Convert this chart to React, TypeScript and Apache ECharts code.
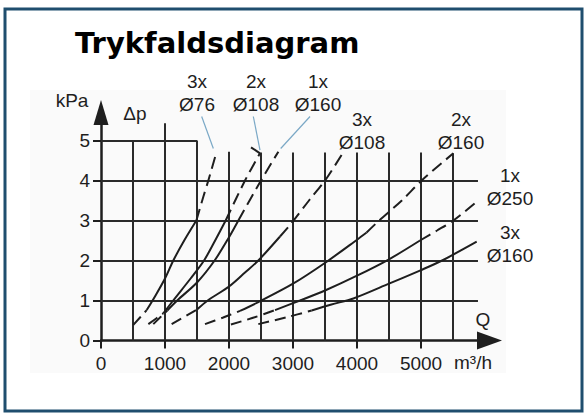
import React, { useEffect, useRef } from "react";
import * as echarts from "echarts";

// ---- axis ticks / labels ----
const xTicks = [0, 1000, 2000, 3000, 4000, 5000];
const yTicks = [0, 1, 2, 3, 4, 5];

// ---- grid lines (values) ----
const gridQ = [500, 1000, 1500, 2000, 2500, 3000, 3500, 4000, 4500, 5000, 5500];
const gridQTop = [5, 5.43, 5, 4.72, 4.7, 4.7, 4.7, 4.7, 4.7, 4.7, 4.68];
const gridDp = [1, 2, 3, 4, 5];
const gridDpEnd = [5890, 5890, 5890, 5890, 1500];

// ---- curves: [Q m3/h, dp kPa]; low dashed part, solid part, high dashed part ----
const curveCounts = ["3x", "2x", "1x", "3x", "2x", "1x", "3x"];
const curveDiameters = ["Ø76", "Ø108", "Ø160", "Ø108", "Ø160", "Ø250", "Ø160"];
const lowParts = [
  [[505, 0.39], [714, 0.76]],
  [[740, 0.41], [974, 0.68]],
  [[817, 0.41], [1036, 0.75]],
  [[1104, 0.41], [1505, 0.78]],
  [[1625, 0.41], [1900, 0.57], [2172, 0.74]],
  [[2030, 0.4], [2400, 0.58], [2719, 0.76]],
  [[2458, 0.41], [2900, 0.58], [3292, 0.75]],
];
const solidParts = [
  [[714, 0.76], [850, 1.12], [1000, 1.55], [1130, 2.0], [1300, 2.5], [1490, 3.0]],
  [[974, 0.68], [1128, 1.0], [1400, 1.55], [1610, 2.0], [1800, 2.55], [1948, 3.0]],
  [[1036, 0.75], [1190, 1.0], [1500, 1.45], [1775, 2.0], [2000, 2.58], [2146, 3.0]],
  [[1505, 0.78], [1667, 1.0], [2000, 1.35], [2250, 1.7], [2458, 2.0], [2797, 2.6]],
  [[2172, 0.74], [2458, 0.96], [3000, 1.42], [3526, 1.97], [4000, 2.52], [4150, 2.7]],
  [[2719, 0.76], [3109, 1.0], [3500, 1.25], [4000, 1.62], [4500, 2.03], [4984, 2.5]],
  [[3292, 0.75], [3600, 0.9], [3943, 1.05], [4500, 1.42], [5000, 1.76], [5330, 2.0], [5870, 2.47]],
];
const highParts = [
  [[1490, 3.0], [1600, 3.6], [1677, 4.0], [1807, 4.72]],
  [[1948, 3.0], [2250, 4.0], [2484, 4.68]],
  [[2146, 3.0], [2500, 4.0], [2771, 4.72]],
  [[2797, 2.6], [2960, 2.9], [3250, 3.5], [3500, 4.0], [3776, 4.68]],
  [[4150, 2.7], [4333, 2.98], [4700, 3.5], [5010, 4.0], [5505, 4.68]],
  [[4984, 2.5], [5250, 2.75], [5505, 3.0], [5870, 3.47]],
  [],
];

// ---- leader lines from labels to curve ends (values) ----
const leaders = [
  [[1573, 5.6], [1755, 4.8]],
  [[2380, 5.6], [2484, 4.76]],
  [[3266, 5.6], [2808, 4.8]],
];
const hook = [[2344, 4.83], [2484, 4.68]];

const FONT = "'Liberation Sans', Arial, sans-serif";
const INK = "#1e1e1e";

export default function App() {
  const ref = useRef<HTMLDivElement>(null);

  useEffect(() => {
    document.body.style.margin = "0";
    const chart = echarts.init(ref.current!, undefined, { renderer: "svg" });

    const gridLines: any[] = [];
    gridQ.forEach((q, i) => {
      gridLines.push([{ coord: [q, 0] }, { coord: [q, gridQTop[i]] }]);
    });
    gridDp.forEach((d, i) => {
      gridLines.push([{ coord: [0, d] }, { coord: [gridDpEnd[i], d] }]);
    });

    const series: any[] = [
      {
        type: "line",
        data: [],
        silent: true,
        markLine: {
          silent: true,
          symbol: "none",
          label: { show: false },
          lineStyle: { color: "#2a2a2a", width: 2, type: "solid" },
          emphasis: { disabled: true },
          data: gridLines,
        },
      },
      {
        type: "line",
        data: [],
        silent: true,
        markLine: {
          silent: true,
          symbol: "none",
          label: { show: false },
          lineStyle: { color: "#7aa8c6", width: 1.2, type: "solid" },
          emphasis: { disabled: true },
          data: leaders.map((l) => [{ coord: l[0] }, { coord: l[1] }]),
        },
      },
      {
        type: "line",
        data: [],
        silent: true,
        markLine: {
          silent: true,
          symbol: "none",
          label: { show: false },
          lineStyle: { color: INK, width: 2, type: "solid" },
          emphasis: { disabled: true },
          data: [[{ coord: hook[0] }, { coord: hook[1] }]],
        },
      },
    ];

    curveDiameters.forEach((d, i) => {
      const common = {
        type: "line",
        name: curveCounts[i] + " " + d,
        showSymbol: false,
        smooth: 0.3,
        silent: true,
        z: 5,
      };
      series.push({
        ...common,
        data: lowParts[i],
        lineStyle: { color: INK, width: 2, type: [11, 6] },
      });
      series.push({
        ...common,
        data: solidParts[i],
        lineStyle: { color: INK, width: 2, type: "solid" },
      });
      if (highParts[i].length) {
        series.push({
          ...common,
          data: highParts[i],
          lineStyle: { color: INK, width: 2, type: [12, 6] },
        });
      }
    });

    const txt = (text: string, x: number, y: number, size = 19) => ({
      type: "text",
      z: 50,
      style: {
        text,
        x,
        y,
        align: "center",
        verticalAlign: "middle",
        font: `${size}px ${FONT}`,
        fill: INK,
      },
    });

    // label centres (count line, diameter line)
    const labelPos = [
      [197, 81, 104],
      [256, 81, 104],
      [318, 81, 104],
      [362, 119, 142],
      [461, 119, 142],
      [510, 175, 198],
      [510, 232, 255],
    ];

    const labelTexts: any[] = [];
    curveDiameters.forEach((d, i) => {
      labelTexts.push(txt(curveCounts[i], labelPos[i][0], labelPos[i][1]));
      labelTexts.push(txt(d, labelPos[i][0], labelPos[i][2]));
    });

    chart.setOption({
      animation: false,
      backgroundColor: "#ffffff",
      grid: {
        left: 101,
        right: 94.5,
        top: 112.5,
        bottom: 73.5,
        outerBoundsMode: "none",
      },
      xAxis: {
        type: "value",
        min: 0,
        max: 6070,
        axisLine: {
          show: true,
          onZero: false,
          symbol: ["none", "triangle"],
          symbolSize: [18, 25],
          lineStyle: { color: INK, width: 2.5 },
        },
        axisTick: {
          show: true,
          customValues: xTicks,
          length: 8,
          lineStyle: { color: INK, width: 2 },
        },
        axisLabel: {
          customValues: xTicks,
          margin: 13,
          fontSize: 19,
          fontFamily: FONT,
          color: INK,
          formatter: (v: number) => String(v),
        },
        splitLine: { show: false },
      },
      yAxis: {
        type: "value",
        min: 0,
        max: 5.7,
        axisLine: {
          show: true,
          onZero: false,
          symbol: ["none", "triangle"],
          symbolSize: [15, 25],
          lineStyle: { color: INK, width: 2.5 },
        },
        axisTick: {
          show: true,
          customValues: yTicks,
          length: 8,
          lineStyle: { color: INK, width: 2 },
        },
        axisLabel: {
          customValues: yTicks,
          margin: 11,
          fontSize: 19,
          fontFamily: FONT,
          color: INK,
          formatter: (v: number) => String(v),
        },
        splitLine: { show: false },
      },
      graphic: [
        {
          type: "rect",
          z: -10,
          shape: { x: 30, y: 90, width: 476, height: 283 },
          style: { fill: "#fafafa" },
        },
        {
          type: "rect",
          z: 100,
          shape: { x: 5, y: 9, width: 577, height: 402 },
          style: { fill: "none", stroke: "#1f4e6e", lineWidth: 3 },
        },
        {
          type: "text",
          z: 50,
          style: {
            text: "Trykfaldsdiagram",
            x: 75,
            y: 43,
            align: "left",
            verticalAlign: "middle",
            font: `bold 29px 'DejaVu Sans', Verdana, sans-serif`,
            fill: "#000000",
          },
        },
        txt("kPa", 72, 100),
        txt("Δp", 135, 113),
        ...labelTexts,
        txt("Q", 483, 319),
        txt("m³/h", 473, 362),
      ],
      series,
    });

    return () => chart.dispose();
  }, []);

  return <div ref={ref} style={{ width: 584, height: 414 }} />;
}
